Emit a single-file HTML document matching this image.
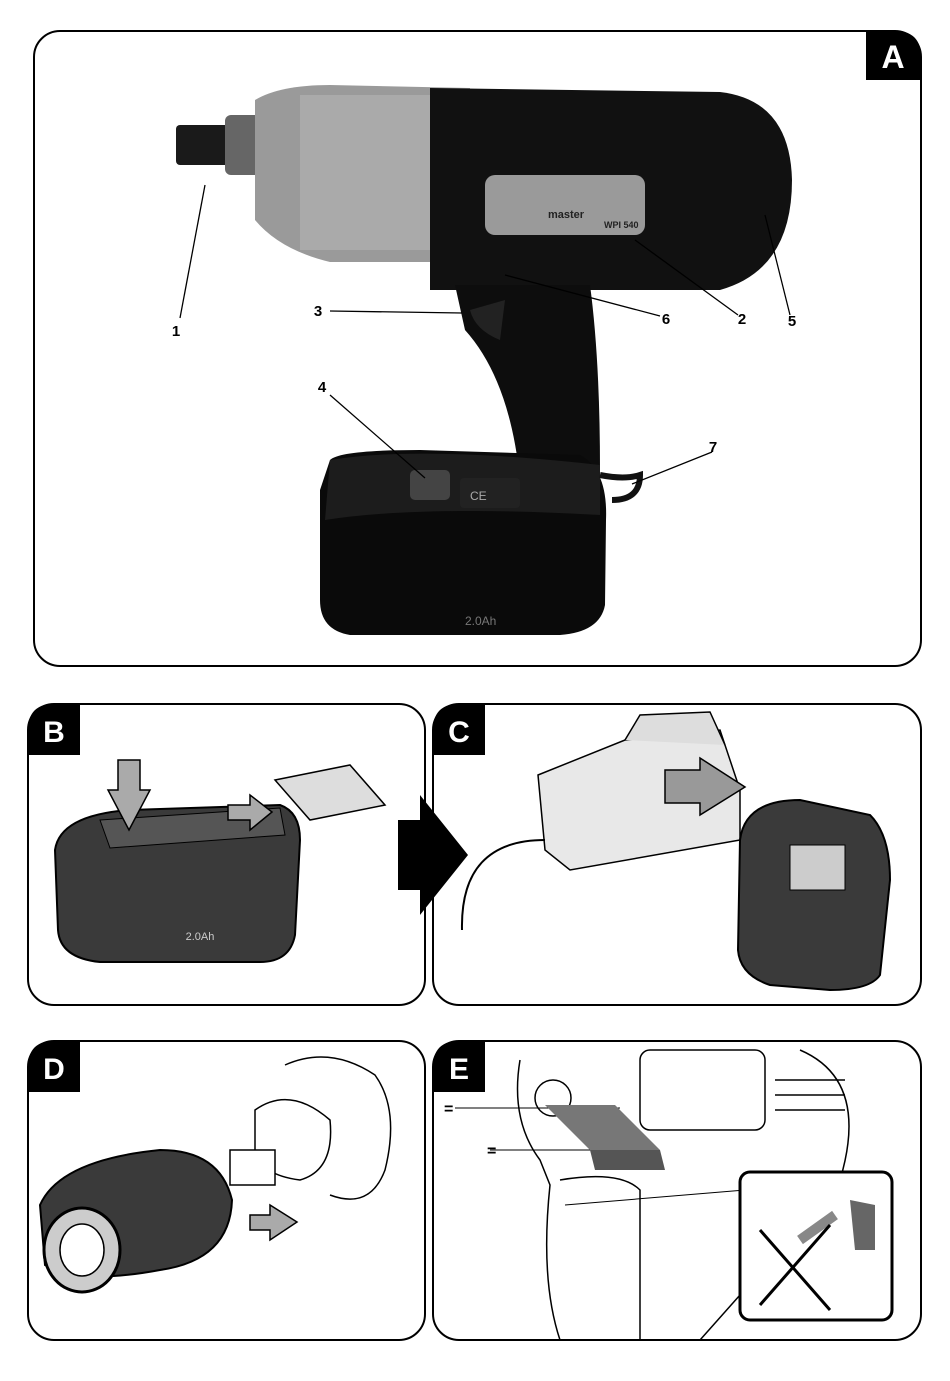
<!DOCTYPE html>
<html><head><meta charset="utf-8"><style>
body{margin:0;background:#fff;}
svg{display:block;font-family:"Liberation Sans",sans-serif;}
</style></head><body>
<svg width="950" height="1381" viewBox="0 0 950 1381" xmlns="http://www.w3.org/2000/svg">
<rect width="950" height="1381" fill="#fff"/>
<!-- Panel A -->
<rect x="34" y="31" width="887" height="635" rx="26" fill="#fff" stroke="#000" stroke-width="2"/>
<path d="M866 31 H895 Q921 31 921 57 V80 H866 Z" fill="#000"/>
<text x="893" y="68" font-size="32" font-weight="bold" fill="#fff" text-anchor="middle">A</text>
<!-- drill -->
<rect x="176" y="125" width="62" height="40" rx="4" fill="#1a1a1a"/>
<rect x="225" y="115" width="40" height="60" rx="6" fill="#666"/>
<path d="M255 100 Q280 85 330 85 L470 88 L470 262 L330 262 Q280 250 255 220 Z" fill="#9a9a9a"/>
<path d="M300 95 L440 95 L440 250 L300 250 Z" fill="#b5b5b5" opacity="0.6"/>
<path d="M430 88 L720 92 Q790 100 792 180 Q792 270 720 290 L430 290 Z" fill="#111"/>
<rect x="485" y="175" width="160" height="60" rx="10" fill="#9a9a9a"/>
<text x="548" y="218" font-size="11" font-weight="bold" fill="#222">master</text>
<text x="604" y="228" font-size="9" font-weight="bold" fill="#222">WPI 540</text>
<path d="M455 285 L590 285 Q600 360 600 470 L520 480 Q510 380 465 330 Z" fill="#0d0d0d"/>
<path d="M470 310 Q475 330 500 340 L505 300 Z" fill="#222"/>
<path d="M330 460 Q340 450 420 450 L580 455 Q608 470 606 520 L605 605 Q600 632 560 635 L350 635 Q320 630 320 600 L320 490 Z" fill="#0a0a0a"/>
<path d="M330 460 Q420 445 600 465 L600 515 Q420 505 325 520 Z" fill="#1c1c1c"/>
<rect x="410" y="470" width="40" height="30" rx="5" fill="#444"/>
<rect x="460" y="478" width="60" height="30" rx="4" fill="#222"/>
<text x="470" y="500" font-size="12" fill="#aaa">CE</text>
<text x="465" y="625" font-size="12" fill="#777">2.0Ah</text>
<path d="M600 475 Q625 480 640 475 Q640 500 612 500" fill="none" stroke="#111" stroke-width="6"/>
<g stroke="#000" stroke-width="1.3" fill="none">
<line x1="205" y1="185" x2="180" y2="318"/>
<line x1="330" y1="311" x2="462" y2="313"/>
<line x1="505" y1="275" x2="660" y2="316"/>
<line x1="635" y1="240" x2="738" y2="315"/>
<line x1="765" y1="215" x2="790" y2="315"/>
<line x1="330" y1="395" x2="425" y2="478"/>
<line x1="632" y1="484" x2="712" y2="452"/>
</g>
<g font-size="15" font-weight="bold" fill="#000" text-anchor="middle">
<text x="176" y="336">1</text><text x="318" y="316">3</text><text x="666" y="324">6</text>
<text x="742" y="324">2</text><text x="792" y="326">5</text><text x="322" y="392">4</text><text x="713" y="452">7</text>
</g>
<!-- Panel B -->
<rect x="28" y="704" width="397" height="301" rx="26" fill="#fff" stroke="#000" stroke-width="2"/>
<path d="M28 755 V730 Q28 704 54 704 H80 V755 Z" fill="#000"/>
<text x="54" y="742" font-size="30" font-weight="bold" fill="#fff" text-anchor="middle">B</text>
<path d="M55 850 Q60 815 130 810 L280 805 Q300 812 300 840 L295 935 Q290 962 260 962 L100 962 Q60 958 58 930 Z" fill="#3a3a3a" stroke="#000" stroke-width="2"/>
<path d="M100 820 L280 808 L285 835 L110 848 Z" fill="#555" stroke="#000"/>
<path d="M118 760 L140 760 L140 790 L150 790 L129 830 L108 790 L118 790 Z" fill="#aaa" stroke="#000" stroke-width="1.5"/>
<path d="M228 805 L250 805 L250 795 L272 812 L250 830 L250 820 L228 820 Z" fill="#aaa" stroke="#000" stroke-width="1.5"/>
<path d="M275 780 L350 765 L385 805 L310 820 Z" fill="#ddd" stroke="#000" stroke-width="1.5"/>
<text x="200" y="940" font-size="11" fill="#ccc" text-anchor="middle">2.0Ah</text>
<!-- Panel C -->
<rect x="433" y="704" width="488" height="301" rx="26" fill="#fff" stroke="#000" stroke-width="2"/>
<path d="M433 755 V730 Q433 704 459 704 H485 V755 Z" fill="#000"/>
<text x="459" y="742" font-size="30" font-weight="bold" fill="#fff" text-anchor="middle">C</text>
<path d="M538 775 L625 740 L720 730 L740 790 L740 840 L570 870 L545 850 Z" fill="#e8e8e8" stroke="#000" stroke-width="1.5"/>
<path d="M625 740 L640 715 L710 712 L725 745" fill="#ddd" stroke="#000" stroke-width="1.5"/>
<path d="M665 770 L700 770 L700 758 L745 787 L700 815 L700 803 L665 803 Z" fill="#999" stroke="#000" stroke-width="1.5"/>
<path d="M545 840 Q460 840 462 930" fill="none" stroke="#000" stroke-width="2"/>
<path d="M740 840 Q745 800 800 800 L870 815 Q890 835 890 880 L880 975 Q870 990 830 990 L770 985 Q740 975 738 950 Z" fill="#3a3a3a" stroke="#000" stroke-width="2"/>
<rect x="790" y="845" width="55" height="45" fill="#ccc" stroke="#000"/>
<!-- big arrow (over panels) -->
<path d="M398 820 L420 820 L420 795 L468 855 L420 915 L420 890 L398 890 Z" fill="#000"/>
<!-- Panel D -->
<rect x="28" y="1041" width="397" height="299" rx="26" fill="#fff" stroke="#000" stroke-width="2"/>
<path d="M28 1092 V1067 Q28 1041 54 1041 H80 V1092 Z" fill="#000"/>
<text x="54" y="1079" font-size="30" font-weight="bold" fill="#fff" text-anchor="middle">D</text>
<path d="M285 1065 Q330 1045 375 1075 Q400 1110 385 1170 Q370 1210 330 1195" fill="none" stroke="#000" stroke-width="1.5"/>
<path d="M255 1110 Q290 1085 330 1120 Q335 1170 300 1180 Q260 1175 255 1150 Z" fill="#fff" stroke="#000" stroke-width="1.5"/>
<rect x="230" y="1150" width="45" height="35" fill="#fff" stroke="#000" stroke-width="1.5"/>
<path d="M40 1205 Q60 1160 160 1150 Q220 1150 232 1200 Q230 1260 160 1270 Q80 1285 45 1265 Z" fill="#3a3a3a" stroke="#000" stroke-width="2"/>
<ellipse cx="82" cy="1250" rx="38" ry="42" fill="#ccc" stroke="#000" stroke-width="3"/>
<ellipse cx="82" cy="1250" rx="22" ry="26" fill="#fff" stroke="#000" stroke-width="1.5"/>
<path d="M250 1215 L270 1215 L270 1205 L297 1222 L270 1240 L270 1230 L250 1230 Z" fill="#aaa" stroke="#000" stroke-width="1.5"/>
<!-- Panel E -->
<rect x="433" y="1041" width="488" height="299" rx="26" fill="#fff" stroke="#000" stroke-width="2"/>
<path d="M433 1092 V1067 Q433 1041 459 1041 H485 V1092 Z" fill="#000"/>
<text x="459" y="1079" font-size="30" font-weight="bold" fill="#fff" text-anchor="middle">E</text>
<g fill="none" stroke="#000" stroke-width="1.5">
<circle cx="553" cy="1098" r="18"/>
<rect x="640" y="1050" width="125" height="80" rx="10"/>
<line x1="775" y1="1080" x2="845" y2="1080"/><line x1="775" y1="1095" x2="845" y2="1095"/><line x1="775" y1="1110" x2="845" y2="1110"/>
<path d="M520 1060 Q510 1120 540 1160 L550 1185 Q540 1280 560 1340"/>
<path d="M560 1180 Q620 1170 640 1190 L640 1340"/>
<path d="M800 1050 Q870 1080 840 1180"/>
<path d="M740 1295 L700 1340"/>
</g>
<g stroke="#000" stroke-width="1"><line x1="455" y1="1108" x2="620" y2="1108"/><line x1="490" y1="1150" x2="620" y2="1150"/><line x1="565" y1="1205" x2="745" y2="1190"/></g>
<text x="444" y="1114" font-size="16" font-weight="bold">=</text>
<text x="487" y="1156" font-size="16" font-weight="bold">=</text>
<path d="M545 1105 L615 1105 L660 1150 L590 1150 Z" fill="#777"/>
<path d="M590 1150 L660 1150 L665 1170 L595 1170 Z" fill="#555"/>
<rect x="740" y="1172" width="152" height="148" rx="10" fill="#fff" stroke="#000" stroke-width="3"/>
<path d="M850 1200 L875 1205 L875 1250 L855 1250 Z" fill="#666"/>
<path d="M800 1240 L835 1215" stroke="#888" stroke-width="10"/>
<g stroke="#000" stroke-width="3"><line x1="760" y1="1230" x2="830" y2="1310"/><line x1="760" y1="1305" x2="830" y2="1225"/></g>
</svg>
</body></html>
